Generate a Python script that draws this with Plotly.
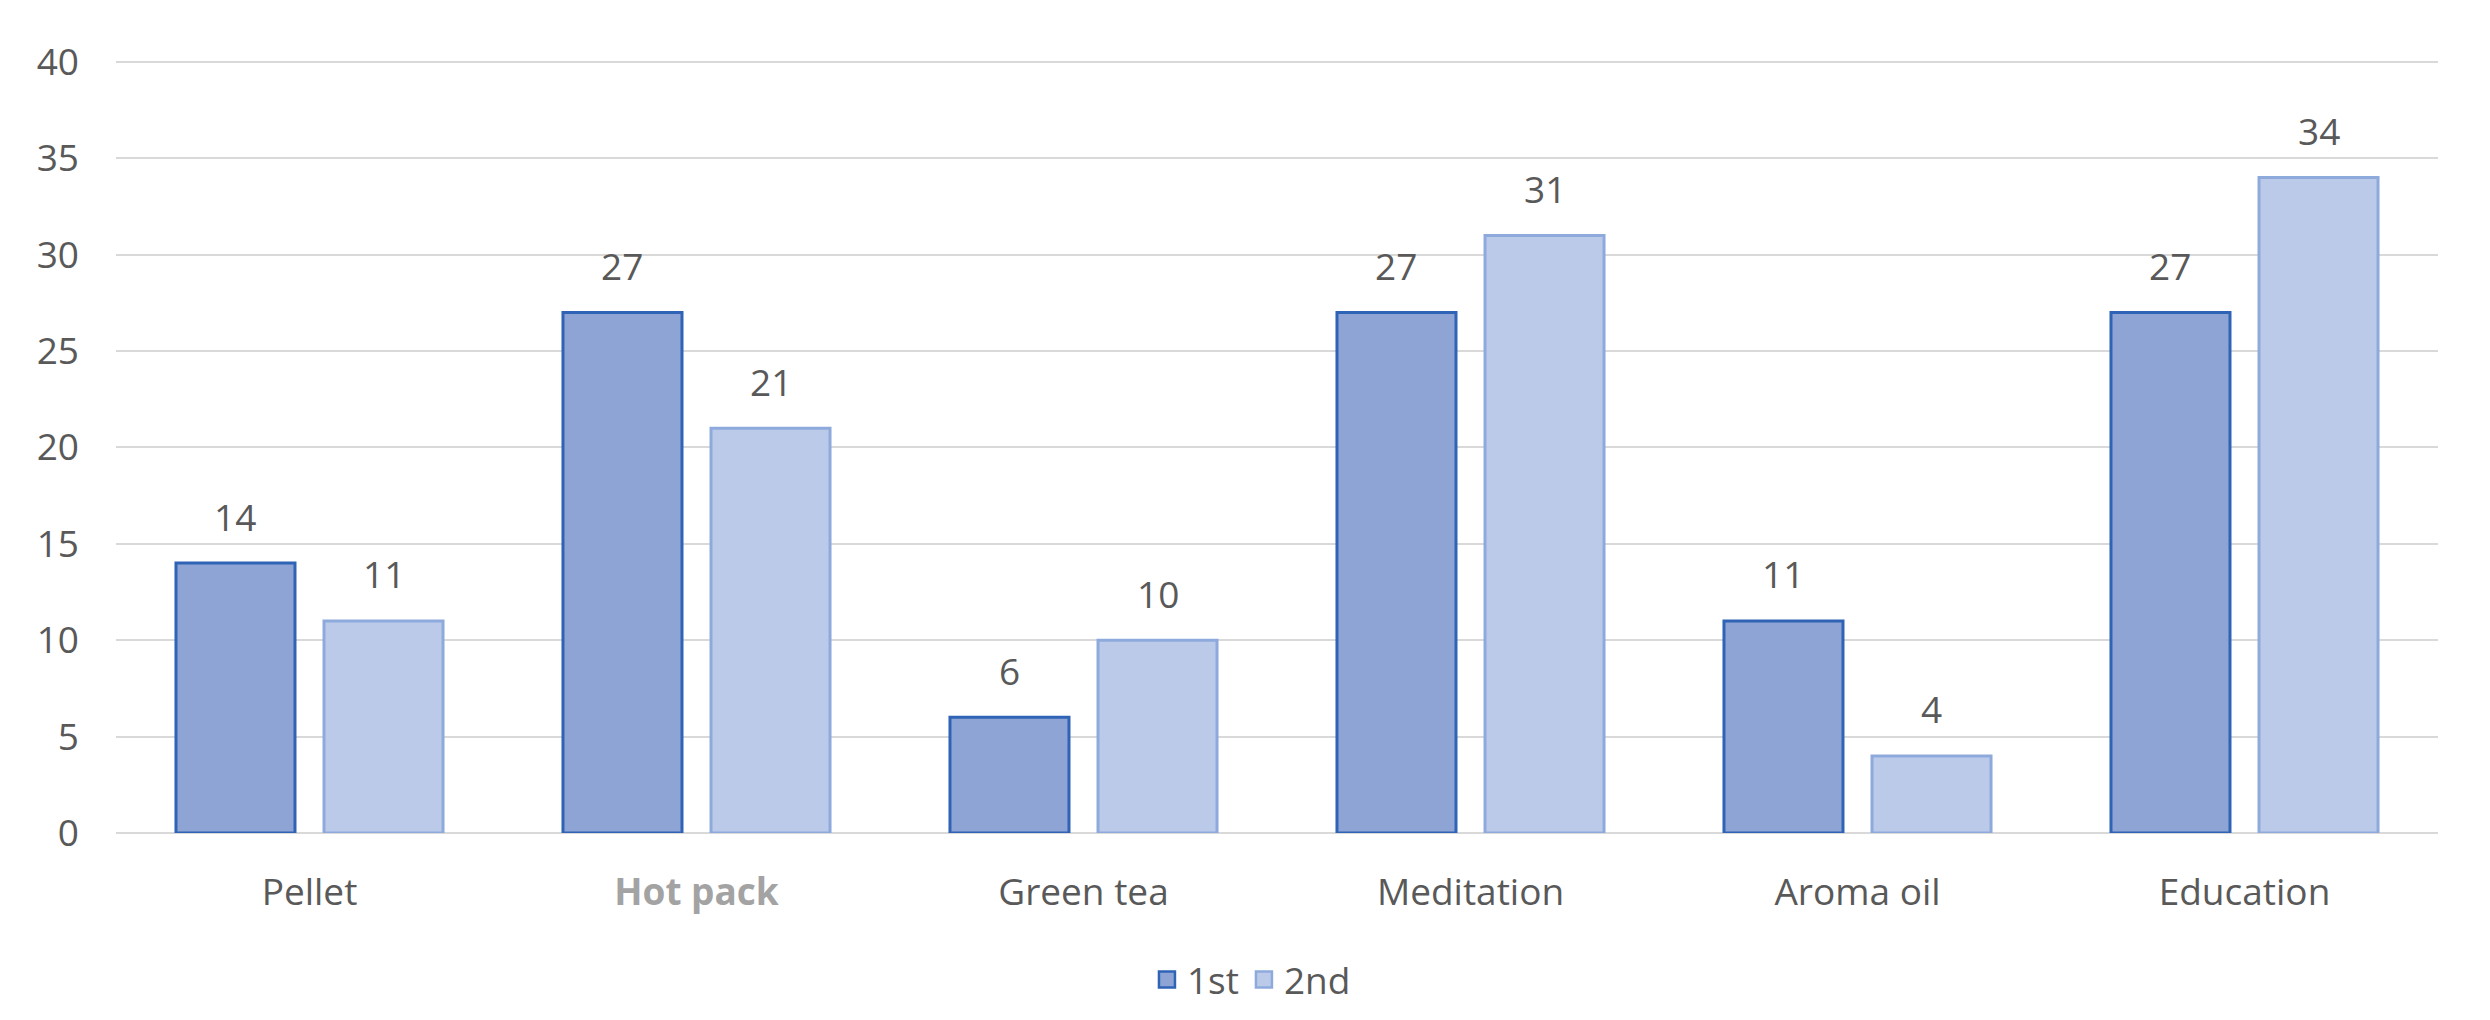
import plotly.graph_objects as go

categories = ["Pellet", "Hot pack", "Green tea", "Meditation", "Aroma oil", "Education"]
first = [14, 27, 6, 27, 11, 27]
second = [11, 21, 10, 31, 4, 34]
series_names = ["1st", "2nd"]
y_ticks = [0, 5, 10, 15, 20, 25, 30, 35, 40]

tick_text = []
for c in categories:
    if c == "Hot pack":
        tick_text.append("<b><span style='color:#a3a3a3'>" + c + "</span></b>")
    else:
        tick_text.append(c)

fill1, line1 = "#8ea4d5", "#2f63b6"
fill2, line2 = "#bccaea", "#8eaadd"
txt = "#595959"
FONT = "Open Sans"
FS = 37

W, H = 2482, 1012
ML, MR, MT, MB = 108, 52, 52, 187
BARGAP, GROUPGAP = 0.235, 0.196

fig = go.Figure()
for vals, name, f, l in [(first, series_names[0], fill1, line1), (second, series_names[1], fill2, line2)]:
    fig.add_trace(go.Bar(
        x=categories, y=vals, name=name, showlegend=False,
        marker=dict(color=f, line=dict(color=l, width=3)),
        cliponaxis=False,
    ))
    fig.add_trace(go.Scatter(
        x=[None], y=[None], mode="markers", name=name,
        marker=dict(symbol="square", size=18, color=f, line=dict(color=l, width=2.5)),
    ))

# value labels above bars, offset to each bar's centre within its group
cat_px = (W - ML - MR) / len(categories)
half_slot = cat_px * (1 - BARGAP) / 4
for vals, sign in [(first, -1), (second, 1)]:
    for c, v in zip(categories, vals):
        fig.add_annotation(x=c, y=v, text=str(v), showarrow=False,
                           xshift=sign * half_slot, yshift=47, yanchor="middle",
                           font=dict(family=FONT, size=FS, color=txt))

fig.update_layout(
    width=W, height=H, autosize=False,
    margin=dict(l=ML, r=MR, t=MT, b=MB, autoexpand=False),
    paper_bgcolor="white", plot_bgcolor="white",
    barmode="group", bargap=BARGAP, bargroupgap=GROUPGAP,
    font=dict(family=FONT, size=FS, color=txt),
    legend=dict(orientation="h", x=0.489, xanchor="center",
                y=-0.19, yanchor="middle", font=dict(size=FS, color=txt),
                itemwidth=30, tracegroupgap=0),
)
fig.update_yaxes(range=[0, 40.1], tickvals=y_ticks, showgrid=True, gridcolor="#d9d9d9",
                 gridwidth=2, zeroline=True, zerolinecolor="#d9d9d9", zerolinewidth=2,
                 showline=False, ticks="", ticklabelstandoff=36, automargin=False,
                 tickfont=dict(family=FONT, size=FS, color=txt))
fig.update_xaxes(tickvals=categories, ticktext=tick_text, showline=False, ticks="",
                 tickangle=0, automargin=False,
                 ticklabelstandoff=34, tickfont=dict(family=FONT, size=FS, color=txt))

fig.write_html("out.html")
